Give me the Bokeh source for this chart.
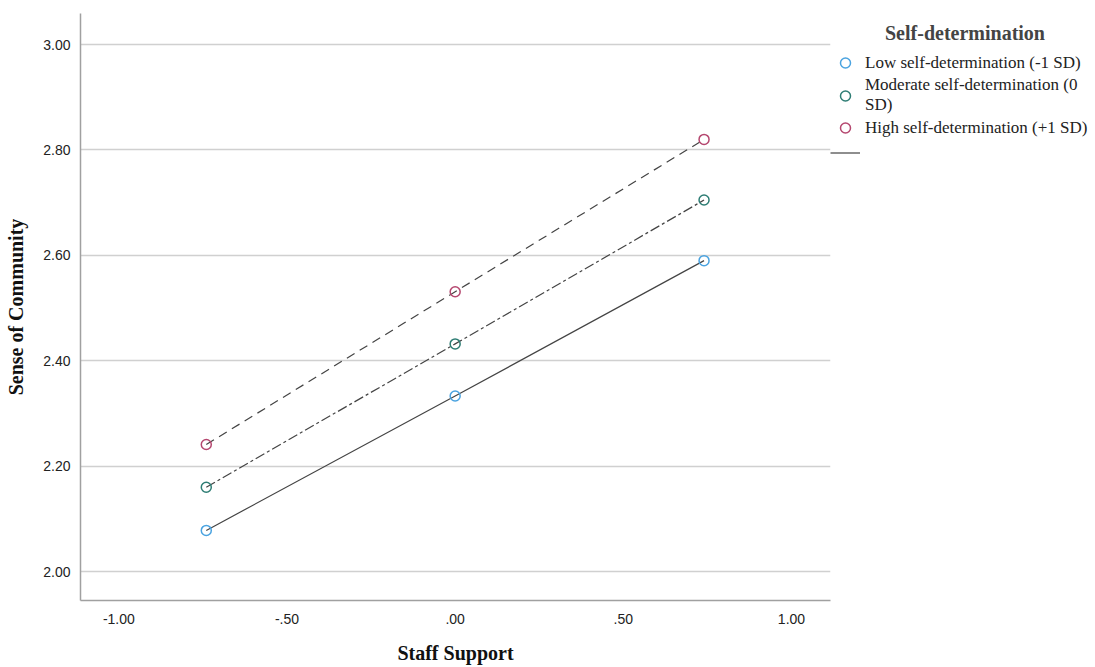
from bokeh.plotting import figure
from bokeh.models import Legend, LegendItem, FixedTicker, Range1d, CustomJSTickFormatter
from bokeh.embed import file_html
from bokeh.resources import INLINE

staff_support = [-0.74, 0.0, 0.74]
low_sd = [2.078, 2.333, 2.590]
moderate_sd = [2.160, 2.432, 2.705]
high_sd = [2.241, 2.531, 2.820]

series_labels = ["Low self-determination (-1 SD)",
                 "Moderate self-determination (0\nSD)",
                 "High self-determination (+1 SD)"]
legend_title = "Self-determination"
x_ticks = [-1.0, -0.5, 0.0, 0.5, 1.0]
y_ticks = [2.0, 2.2, 2.4, 2.6, 2.8, 3.0]

p = figure(frame_width=750, frame_height=587, output_backend="svg", toolbar_location=None,
           x_range=Range1d(-1.114, 1.116), y_range=Range1d(1.945, 3.059),
           min_border_left=80, min_border_right=0, min_border_top=13, min_border_bottom=67)
p.outline_line_color = None
p.background_fill_color = "white"
p.xgrid.grid_line_color = None
p.ygrid.grid_line_color = "#d0d0d0"
p.ygrid.grid_line_width = 1.5

for ax in (p.xaxis[0], p.yaxis[0]):
    ax.axis_line_color = "#a0a0a0"
    ax.axis_line_width = 1.5
    ax.major_tick_line_color = None
    ax.minor_tick_line_color = None
    ax.major_label_text_font = "Liberation Sans"
    ax.major_label_text_font_size = "14px"
    ax.major_label_text_color = "#222222"
    ax.axis_label_text_font = "Liberation Serif"
    ax.axis_label_text_font_style = "bold"
    ax.axis_label_text_font_size = "20px"
    ax.axis_label_text_color = "#111111"

fmt = CustomJSTickFormatter(code="""
let s = tick.toFixed(2);
if (s.startsWith('0.')) s = s.slice(1);
else if (s.startsWith('-0.')) s = '-' + s.slice(2);
return s;
""")
p.xaxis.ticker = FixedTicker(ticks=x_ticks)
p.yaxis.ticker = FixedTicker(ticks=y_ticks)
p.xaxis.formatter = fmt
p.yaxis.formatter = fmt
p.xaxis.axis_label = "Staff Support"
p.yaxis.axis_label = "Sense of Community"
p.xaxis.major_label_standoff = 7
p.xaxis.axis_label_standoff = 15
p.yaxis.major_label_standoff = 4
p.yaxis.axis_label_standoff = 13

line_color = "#444444"
colors = ["#4aa3e0", "#2e7d74", "#b5476f"]
dashes = ["solid", "10 3 3 3", "9 6"]
data = [low_sd, moderate_sd, high_sd]

items = []
lines = []
for vals, col, dash, lab in zip(data, colors, dashes, series_labels):
    ln = p.line(staff_support, vals, line_color=line_color, line_width=1.2, line_dash=dash)
    lines.append(ln)
    r = p.scatter(staff_support, vals, marker="circle", size=10, fill_color=None,
                  line_color=col, line_width=1.5)
    items.append(LegendItem(label=lab, renderers=[r]))

items.append(LegendItem(label=" ", renderers=[lines[0]]))

legend = Legend(items=items, location=(0, 435),
                title="\u00a0" * 11 + legend_title,
                title_text_font="Liberation Serif", title_text_font_style="bold",
                title_text_font_size="20px", title_standoff=5,
                label_text_font="Liberation Serif", label_text_font_size="17px",
                label_text_line_height=0.95,
                label_text_color="#222222", glyph_width=30, glyph_height=25,
                label_standoff=5, spacing=0, padding=1, margin=0,
                border_line_color=None, background_fill_alpha=0)
p.add_layout(legend, "right")

open("out.html", "w").write(file_html(p, INLINE))
